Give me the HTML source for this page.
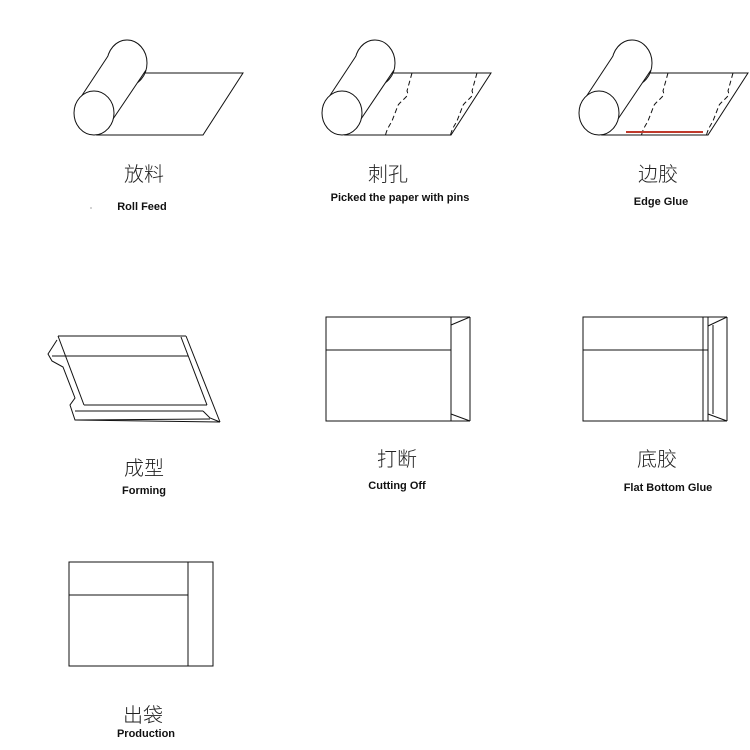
<!DOCTYPE html>
<html><head><meta charset="utf-8"><style>
html,body{margin:0;padding:0;background:#fff}
.c{position:absolute;font-family:"Liberation Sans","Noto Sans CJK SC",sans-serif;font-size:20px;color:#222;transform:translateX(-50%);white-space:nowrap;font-weight:300}
.e{position:absolute;font-family:"Liberation Sans",sans-serif;font-size:11px;font-weight:bold;color:#111;transform:translateX(-50%);white-space:nowrap}
</style></head><body>
<div style="position:relative;width:750px;height:750px;overflow:hidden">
<svg width="750" height="750" style="position:absolute;left:0;top:0" fill="none" stroke="#111" stroke-width="1">
<defs>
<g id="roll">
<polygon points="143,73 243,73 203,135 97,135" fill="#fff"/>
<ellipse cx="127" cy="63" rx="20" ry="23" fill="#fff"/>
<polygon points="75,106 108,56 146,70 113,119" fill="#fff" stroke="none"/>
<line x1="75" y1="106" x2="108" y2="56"/>
<line x1="113" y1="119" x2="146" y2="70"/>
<ellipse cx="94" cy="113" rx="20" ry="22" fill="#fff"/>
</g>
<g id="dash" stroke-dasharray="5,3">
<path d="M0,0 L-5,18 C-3,22 -6,24 -9,27 C-12,30 -14,31 -15,35 L-20,48 C-22,52 -25,55 -27,64"/>
</g>
</defs>
<use href="#roll"/>
<use href="#roll" x="248"/>
<use href="#dash" x="412" y="73"/>
<use href="#dash" x="477" y="73"/>
<use href="#roll" x="505"/>
<use href="#dash" x="668" y="73"/>
<use href="#dash" x="733" y="73"/>
<line x1="626" y1="132" x2="703" y2="132" stroke="#c0392b" stroke-width="2"/>

<!-- Forming -->
<line x1="58" y1="336" x2="186" y2="336"/>
<line x1="52" y1="356" x2="188" y2="356"/>
<polyline points="57,340 48,354 52,361 63,367 75,398 70,405 75,420 220,422"/>
<line x1="58" y1="336" x2="84" y2="405"/>
<line x1="84" y1="405" x2="207" y2="405"/>
<line x1="75" y1="411" x2="203" y2="411"/>
<polyline points="203,411 210,418 220,422"/>
<line x1="181" y1="337" x2="207" y2="405"/>
<line x1="186" y1="336" x2="220" y2="422"/>
<line x1="75" y1="420" x2="210" y2="419"/>

<!-- Cutting off -->
<rect x="326" y="317" width="125" height="104"/>
<line x1="326" y1="350" x2="451" y2="350"/>
<line x1="470" y1="317" x2="470" y2="421"/>
<line x1="451" y1="317" x2="470" y2="317"/>
<line x1="451" y1="421" x2="470" y2="421"/>
<line x1="451" y1="325" x2="470" y2="317"/>
<line x1="451" y1="414" x2="470" y2="421"/>

<!-- Flat bottom -->
<rect x="583" y="317" width="120" height="104"/>
<line x1="583" y1="350" x2="708" y2="350"/>
<line x1="708" y1="317" x2="708" y2="421"/>
<line x1="713" y1="325" x2="713" y2="414"/>
<line x1="727" y1="317" x2="727" y2="421"/>
<line x1="703" y1="317" x2="727" y2="317"/>
<line x1="703" y1="421" x2="727" y2="421"/>
<line x1="708" y1="326" x2="727" y2="317"/>
<line x1="708" y1="414" x2="727" y2="421"/>

<!-- Production -->
<rect x="69" y="562" width="144" height="104"/>
<line x1="188" y1="562" x2="188" y2="666"/>
<line x1="69" y1="595" x2="188" y2="595"/>
<circle cx="91" cy="208" r="0.6" fill="#666" stroke="none"/>
</svg>
<div class="c" style="left:144px;top:158px">放料</div>
<div class="e" style="left:142px;top:201px">Roll Feed</div>
<div class="c" style="left:388px;top:158px">刺孔</div>
<div class="e" style="left:400px;top:192px">Picked the paper with pins</div>
<div class="c" style="left:658px;top:158px">边胶</div>
<div class="e" style="left:661px;top:196px">Edge Glue</div>
<div class="c" style="left:144px;top:452px">成型</div>
<div class="e" style="left:144px;top:485px">Forming</div>
<div class="c" style="left:397px;top:443px">打断</div>
<div class="e" style="left:397px;top:480px">Cutting Off</div>
<div class="c" style="left:657px;top:443px">底胶</div>
<div class="e" style="left:668px;top:482px">Flat Bottom Glue</div>
<div class="c" style="left:143px;top:699px">出袋</div>
<div class="e" style="left:146px;top:728px">Production</div>
</div>
</body></html>
